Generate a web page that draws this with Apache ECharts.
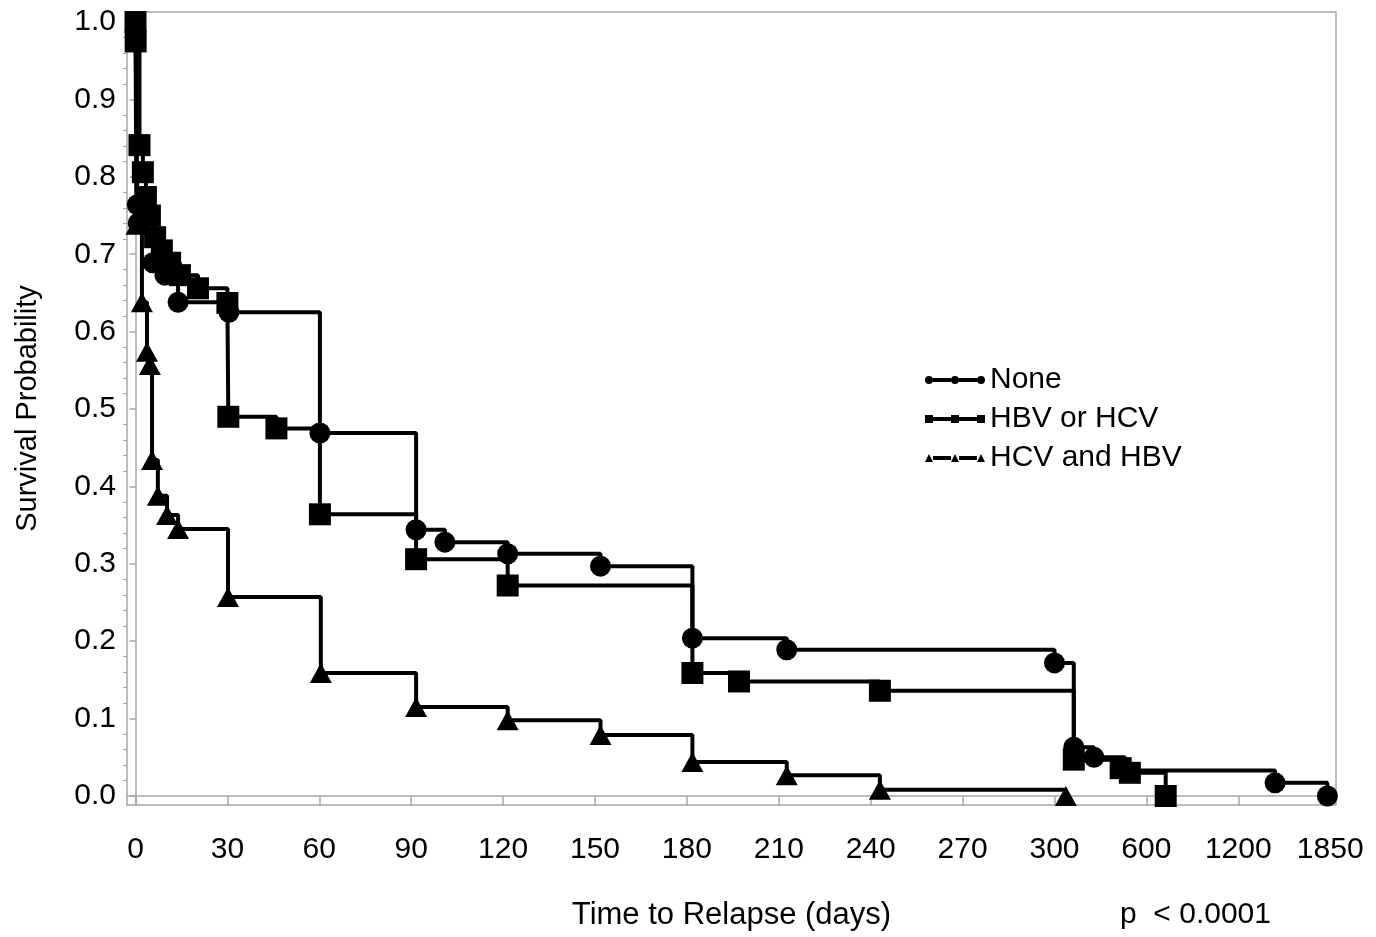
<!DOCTYPE html>
<html>
<head>
<meta charset="utf-8">
<script src="https://cdn.jsdelivr.net/npm/echarts@6/dist/echarts.min.js"></script>
<style>html,body{margin:0;padding:0;background:#fff;}#chart{width:1376px;height:937px;}</style>
</head>
<body>
<div id="chart"></div>
<script>
// Axis tick days (broken axis: equally spaced ticks)
var tickDays = [0, 30, 60, 90, 120, 150, 180, 210, 240, 270, 300, 600, 1200, 1850];
var yTicks = [0, 0.1, 0.2, 0.3, 0.4, 0.5, 0.6, 0.7, 0.8, 0.9, 1.0];
var yMinorTicks = [0.02,0.04,0.06,0.08,0.12,0.14,0.16,0.18,0.22,0.24,0.26,0.28,0.32,0.34,0.36,0.38,0.42,0.44,0.46,0.48,0.52,0.54,0.56,0.58,0.62,0.64,0.66,0.68,0.72,0.74,0.76,0.78,0.82,0.84,0.86,0.88,0.92,0.94,0.96,0.98];

var seriesNames = ['None', 'HBV or HCV', 'HCV and HBV'];

var noneDays = [0, 0.6, 0.9, 5.7, 9.6, 13.9, 30.5, 60.2, 91.6, 101, 121.5, 151.8, 181.8, 212.6, 300, 363, 429, 530, 1460, 1830];
var noneSurv = [1.0, 0.764, 0.740, 0.689, 0.673, 0.638, 0.625, 0.469, 0.344, 0.328, 0.313, 0.297, 0.204, 0.189, 0.172, 0.063, 0.050, 0.033, 0.017, 0.0];

var hbvDays = [0, 0.05, 1.3, 2.4, 3.4, 4.7, 6.4, 8.6, 11.3, 14.5, 20.4, 30, 30.3, 46, 60.2, 91.6, 121.5, 181.8, 197, 243, 363, 516, 546, 726];
var hbvSurv = [1.0, 0.975, 0.841, 0.806, 0.774, 0.750, 0.722, 0.705, 0.689, 0.673, 0.656, 0.637, 0.490, 0.475, 0.364, 0.306, 0.272, 0.159, 0.148, 0.136, 0.047, 0.036, 0.030, 0.0];

var triDays = [0, 0.3, 2.1, 3.75, 4.7, 5.4, 7.3, 10.3, 13.9, 30.2, 60.5, 91.6, 121.5, 151.8, 181.8, 212.6, 243, 337];
var triSurv = [1.0, 0.738, 0.638, 0.574, 0.557, 0.434, 0.388, 0.363, 0.345, 0.257, 0.159, 0.115, 0.098, 0.079, 0.044, 0.027, 0.008, 0.0];

var pText = 'p  < 0.0001';

// map days onto the equally spaced broken-axis position
function dayPos(d) {
  for (var i = 0; i < tickDays.length - 1; i++) {
    if (d <= tickDays[i + 1]) return i + (d - tickDays[i]) / (tickDays[i + 1] - tickDays[i]);
  }
  return tickDays.length - 1;
}
function build(days, surv) {
  return days.map(function (d, i) { return [dayPos(d), surv[i]]; });
}
var tickPos = tickDays.map(function (d, i) { return i; });

var FONT = "'Liberation Sans', Arial, sans-serif";
var GRAY = '#a6a6a6';

var seg = 'M8,2.1 L26,2.1 L26,5.9 L8,5.9 Z M34,2.1 L52,2.1 L52,5.9 L34,5.9 Z ';
var iconCircle = 'path://' + seg + 'M0,4 A4,4 0 1,1 8,4 A4,4 0 1,1 0,4 Z M26,4 A4,4 0 1,1 34,4 A4,4 0 1,1 26,4 Z M52,4 A4,4 0 1,1 60,4 A4,4 0 1,1 52,4 Z';
var iconSquare = 'path://' + seg + 'M0,0 L8,0 L8,8 L0,8 Z M26,0 L34,0 L34,8 L26,8 Z M52,0 L60,0 L60,8 L52,8 Z';
var iconTri = 'path://' + seg + 'M0,8 L4,0 L8,8 Z M26,8 L30,0 L34,8 Z M52,8 L56,0 L60,8 Z';

function lineSeries(name, data, symbol, size) {
  return {
    name: name, type: 'line', step: 'end', data: data,
    symbol: symbol, symbolSize: size, showAllSymbol: true,
    lineStyle: { color: '#000', width: 4 },
    itemStyle: { color: '#000' },
    clip: false, animation: false
  };
}

var chart = echarts.init(document.getElementById('chart'), null, { renderer: 'canvas' });
chart.setOption({
  animation: false,
  backgroundColor: '#fff',
  grid: { left: 127, top: 12, right: 40, bottom: 132, show: true, borderColor: GRAY, borderWidth: 1.5,
          containLabel: false, outerBoundsMode: 'none' },
  legend: {
    orient: 'vertical', left: 920, top: 360, itemWidth: 60, itemHeight: 9, itemGap: 9,
    textStyle: { fontFamily: FONT, fontSize: 30, color: '#000', lineHeight: 30 },
    data: [
      { name: seriesNames[0], icon: iconCircle },
      { name: seriesNames[1], icon: iconSquare },
      { name: seriesNames[2], icon: iconTri }
    ],
    selectedMode: false
  },
  xAxis: {
    type: 'value', min: (127 - 135.5) / 91.9, max: (1336 - 135.5) / 91.9,
    name: 'Time to Relapse (days)', nameLocation: 'middle', nameGap: 95,
    nameTextStyle: { fontFamily: FONT, fontSize: 31, color: '#000' },
    axisLine: { show: true, lineStyle: { color: GRAY, width: 1.5 } },
    axisTick: { show: true, customValues: tickPos, length: 10, lineStyle: { color: GRAY, width: 1.5 } },
    axisLabel: {
      customValues: tickPos, margin: 30, fontFamily: FONT, fontSize: 30, color: '#000',
      formatter: function (v) { return String(tickDays[Math.round(v)]); }
    },
    splitLine: { show: false }
  },
  yAxis: [{
    type: 'value', min: -0.0116, max: 1.013,
    name: 'Survival Probability', nameLocation: 'middle', nameGap: 85, nameRotate: 90,
    nameTextStyle: { fontFamily: FONT, fontSize: 29, color: '#000' },
    axisLine: { show: true, lineStyle: { color: GRAY, width: 1.5 } },
    axisTick: { show: true, customValues: yTicks, length: 6, lineStyle: { color: GRAY, width: 1.5 } },
    axisLabel: {
      customValues: yTicks, margin: 11, fontFamily: FONT, fontSize: 30, color: '#000',
      formatter: function (v) { return v.toFixed(1); }
    },
    splitLine: { show: false }
  }, {
    type: 'value', min: -0.0116, max: 1.013, position: 'left',
    axisLine: { show: false },
    axisTick: { show: true, customValues: yMinorTicks, length: 4, lineStyle: { color: GRAY, width: 1 } },
    axisLabel: { show: false },
    splitLine: { show: false }
  }],
  graphic: [{
    type: 'text', left: 1120, top: 900,
    style: { text: pText, fontFamily: FONT, fontSize: 30, fill: '#000' }
  }],
  series: [
    lineSeries(seriesNames[0], build(noneDays, noneSurv), 'circle', 21),
    lineSeries(seriesNames[1], build(hbvDays, hbvSurv), 'rect', 22),
    lineSeries(seriesNames[2], build(triDays, triSurv), 'triangle', [22, 20])
  ]
});
</script>
</body>
</html>
